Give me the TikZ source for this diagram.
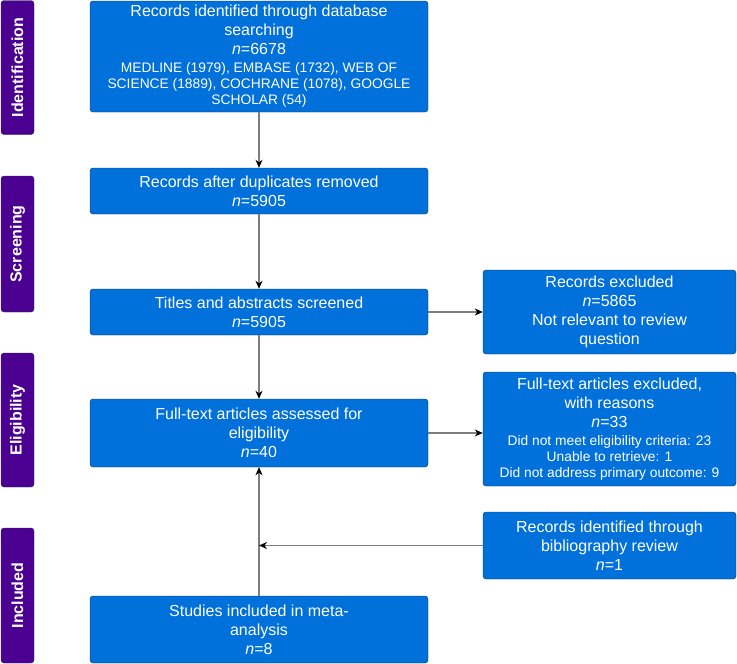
\documentclass[tikz,border=0pt]{standalone}
\usepackage{fontspec}
\setmainfont{Liberation Sans}
\usetikzlibrary{arrows.meta}
\definecolor{boxBlue}{RGB}{0,112,218}
\definecolor{boxEdge}{RGB}{22,48,86}
\definecolor{phasePurple}{RGB}{76,0,145}
\definecolor{lineG}{RGB}{125,125,125}
\newcommand{\smalltext}{\fontsize{13.8}{16}\selectfont}

\begin{document}
\begin{tikzpicture}[x=1pt,y=-1pt,
  box/.style={draw=boxEdge, fill=boxBlue, rounded corners=3pt, text=white,
    align=center, inner sep=2pt, font=\fontsize{16}{19}\selectfont},
  mainbox/.style={box, minimum width=338pt},
  sidebox/.style={box, minimum width=253pt},
  phase/.style={draw=boxEdge, fill=phasePurple, rounded corners=3pt, text=white,
    rotate=90, minimum height=33pt, inner sep=0pt, font=\bfseries\fontsize{16}{18}\selectfont},
  flow/.style={draw=lineG, line width=1.1pt, -{Stealth[black,length=8pt,width=7pt,inset=2.5pt]}}]
  \useasboundingbox (0,0) rectangle (737,664);

  % phase bars on the left
  \node[phase, minimum width=134pt] (pIdent) at (17.5,67.5) {Identification};
  \node[phase, minimum width=136pt] (pScreen) at (17.5,244) {Screening};
  \node[phase, minimum width=134pt] (pElig) at (17.5,420) {Eligibility};
  \node[phase, minimum width=135pt] (pIncl) at (17.5,595.5) {Included};

  % main column
  \node[mainbox, minimum height=111pt] (search) at (259,56.5)
    {Records identified through database\\searching\\\textit{n}=6678\\[-1pt]
     \smalltext MEDLINE (1979), EMBASE (1732), WEB OF\\[-3pt]
     \smalltext SCIENCE (1889), COCHRANE (1078), GOOGLE\\[-3pt]
     \smalltext SCHOLAR (54)};
  \node[mainbox, minimum height=46pt] (dedup) at (259,191)
    {Records after duplicates removed\\\textit{n}=5905};
  \node[mainbox, minimum height=46pt] (screen) at (259,312)
    {Titles and abstracts screened\\\textit{n}=5905};
  \node[mainbox, minimum height=68pt] (fulltext) at (259,433)
    {Full-text articles assessed for\\eligibility\\\textit{n}=40};
  \node[mainbox, minimum height=67pt] (included) at (259,629.5)
    {Studies included in meta-\\analysis\\\textit{n}=8};

  % right column
  \node[sidebox, minimum height=84pt] (excl) at (609.5,312)
    {Records excluded\\\textit{n}=5865\\Not relevant to review\\question};
  \node[sidebox, minimum height=114pt] (ftexcl) at (609.5,429)
    {Full-text articles excluded,\\with reasons\\\textit{n}=33\\[-1pt]
     \smalltext Did not meet eligibility criteria: 23\\[-3pt]
     \smalltext Unable to retrieve: 1\\[-3pt]
     \smalltext Did not address primary outcome: 9};
  \node[sidebox, minimum height=67pt] (biblio) at (609.5,545.5)
    {Records identified through\\bibliography review\\\textit{n}=1};

  % connectors
  \draw[flow] (search) -- (dedup);
  \draw[flow] (dedup) -- (screen);
  \draw[flow] (screen) -- (fulltext);
  \draw[flow] (included) -- (fulltext);
  \draw[flow] (screen) -- (excl);
  \draw[flow] (fulltext.east) -- (fulltext.east -| ftexcl.west);
  \draw[flow] (biblio.west) -- (biblio.west -| fulltext.south);
\end{tikzpicture}
\end{document}
